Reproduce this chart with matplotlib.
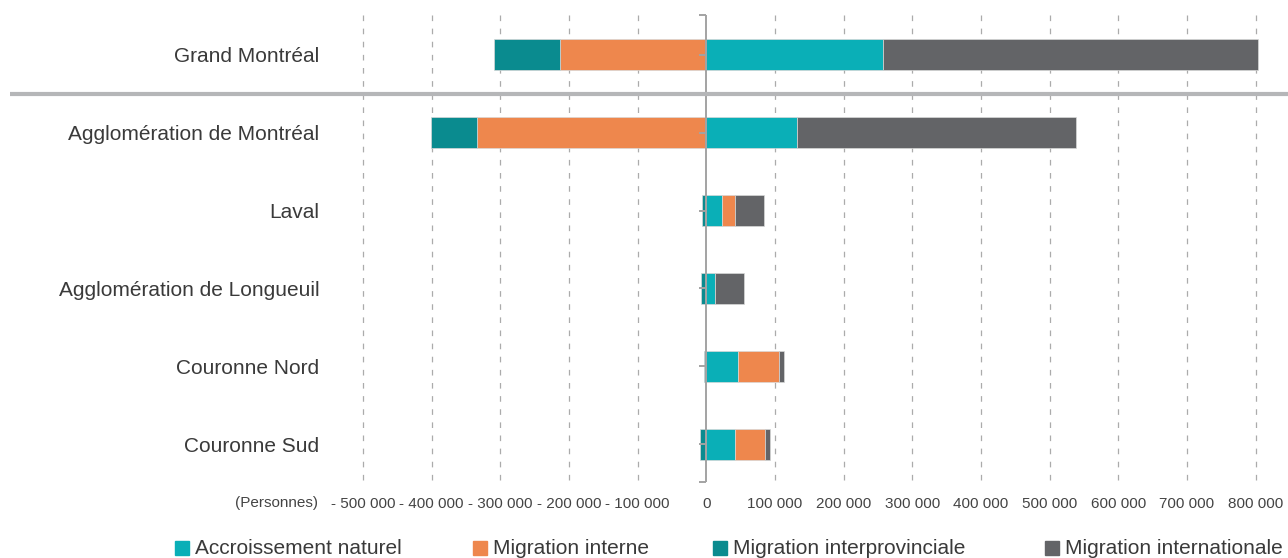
import matplotlib
matplotlib.use("Agg")
import matplotlib.pyplot as plt
import matplotlib.transforms as mtransforms
from matplotlib.patches import Rectangle

plt.rcParams["font.family"] = ["Liberation Sans", "DejaVu Sans"]

# Population change components by territory (persons)
regions = ["Grand Montréal", "Agglomération de Montréal", "Laval",
           "Agglomération de Longueuil", "Couronne Nord", "Couronne Sud"]
naturel = [257000, 132000, 23000, 12000, 46500, 42000]
interne = [-213000, -334000, 18500, 0, 59000, 43000]
interprov = [-96000, -67000, -6000, -7500, -3000, -9000]
international = [547000, 406000, 42000, 43500, 7500, 7500]

series_names = ["Accroissement naturel", "Migration interne",
                "Migration interprovinciale", "Migration internationale"]
series_colors = ["#0AAFB7", "#EE874D", "#0A8B8F", "#636467"]
x_ticks = list(range(-500000, 800001, 100000))
unit_label = "(Personnes)"

W, H = 1288, 558
fig = plt.figure(figsize=(W / 100, H / 100), dpi=100)
ax_left, ax_right, ax_top, ax_bottom = 330, 1288, 15, 482
ax = fig.add_axes([ax_left / W, (H - ax_bottom) / H,
                   (ax_right - ax_left) / W, (ax_bottom - ax_top) / H])

ypos = list(range(len(regions)))
bar_h = 0.4
pos_base = [0.0] * len(regions)
neg_base = [0.0] * len(regions)
for values, color in zip([naturel, interne, interprov, international], series_colors):
    lefts = []
    for i, v in enumerate(values):
        if v >= 0:
            lefts.append(pos_base[i])
            pos_base[i] += v
        else:
            lefts.append(neg_base[i])
            neg_base[i] += v
    ax.barh(ypos, values, left=lefts, height=bar_h, color=color,
            edgecolor="#D8D8D8", linewidth=0.5, zorder=3)

ax.set_xlim(-548000, 847000)
ax.set_ylim(len(regions) - 1 + 0.487, -0.513)

# dashed vertical gridlines
for t in x_ticks:
    if t != 0:
        ax.plot([t, t], [-0.513, len(regions) - 1 + 0.487], color="#ABABAB",
                lw=0.9, dashes=(4.5, 6.0), zorder=1, clip_on=False)

# category axis at zero with small ticks
axis_col = "#A3A3A3"
ax.plot([0, 0], [-0.513, len(regions) - 1 + 0.487], color=axis_col, lw=1.4,
        zorder=4, solid_capstyle="butt")
for y in ypos + [-0.513, len(regions) - 1 + 0.487]:
    ax.plot([-10000, 0], [y, y], color=axis_col, lw=1.4, zorder=4,
            solid_capstyle="butt", clip_on=False)

# separator below the metropolitan total
trans = mtransforms.blended_transform_factory(ax.transAxes, ax.transData)
ax.plot([(10 - ax_left) / (ax_right - ax_left), 1.0], [0.5, 0.5],
        transform=trans, color="#B5B6B8", lw=3.0, zorder=5, clip_on=False,
        solid_capstyle="butt")

for s in ax.spines.values():
    s.set_visible(False)

ax.set_yticks(ypos)
ax.set_yticklabels(regions, fontsize=15, color="#3A3A3A")
ax.tick_params(axis="y", length=0, pad=7.5)


def fmt(v):
    s = f"{abs(v):,}".replace(",", " ")
    return f"- {s}" if v < 0 else s


ax.set_xticks(x_ticks)
ax.set_xticklabels([fmt(t) for t in x_ticks], fontsize=11, color="#444444")
ax.tick_params(axis="x", length=0, pad=11)

fig.text(318 / W, 1 - 503 / H, unit_label, ha="right", va="center",
         fontsize=11, color="#444444")

# legend
leg_x = [175, 473, 713, 1045]
leg_y = 548
sq = 14
for x, name, color in zip(leg_x, series_names, series_colors):
    fig.patches.append(Rectangle((x / W, 1 - (leg_y + sq / 2) / H), sq / W, sq / H,
                                 transform=fig.transFigure, color=color))
    fig.text((x + sq + 6) / W, 1 - leg_y / H, name, ha="left", va="center",
             fontsize=15, color="#3A3A3A")

fig.savefig("out.png", dpi=100)
